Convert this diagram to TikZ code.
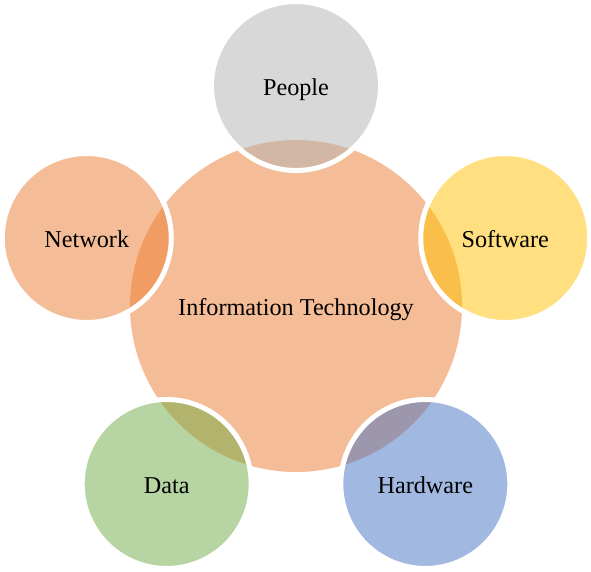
\documentclass[tikz,border=0pt]{standalone}
\usepackage{fontspec}
\setmainfont{Liberation Serif}
\definecolor{accOrange}{HTML}{ED7D31}
\definecolor{accGray}{HTML}{B3B3B3}
\definecolor{accGold}{HTML}{FFC000}
\definecolor{accBlue}{HTML}{4472C4}
\definecolor{accGreen}{HTML}{70AD47}
\begin{document}
\begin{tikzpicture}[x=1pt,y=1pt,
  labeltext/.style={font=\fontsize{24.2}{28}\selectfont, text=black, text opacity=1,
    text height=19pt, text depth=0pt},
  hub/.style={circle, inner sep=0pt, minimum size=332pt, fill=accOrange,
    fill opacity=0.5, labeltext},
  satellite/.style={circle, inner sep=0pt, minimum size=169pt, fill=#1,
    fill opacity=0.5, draw=white, line width=5pt, labeltext}]
  \fill[white] (0,0) rectangle (591,571);
  \useasboundingbox (0,0) rectangle (591,571);
  \begin{scope}[shift={(296,265)}]
    \node[hub] (it) at (0,0) {Information Technology};
    \node[satellite=accGray]   (people)   at (90:220)  {People};
    \node[satellite=accGold]   (software) at (18:220)  {Software};
    \node[satellite=accBlue]   (hardware) at (-54:220) {Hardware};
    \node[satellite=accGreen]  (data)     at (234:220) {Data};
    \node[satellite=accOrange] (network)  at (162:220) {Network};
  \end{scope}
\end{tikzpicture}
\end{document}
